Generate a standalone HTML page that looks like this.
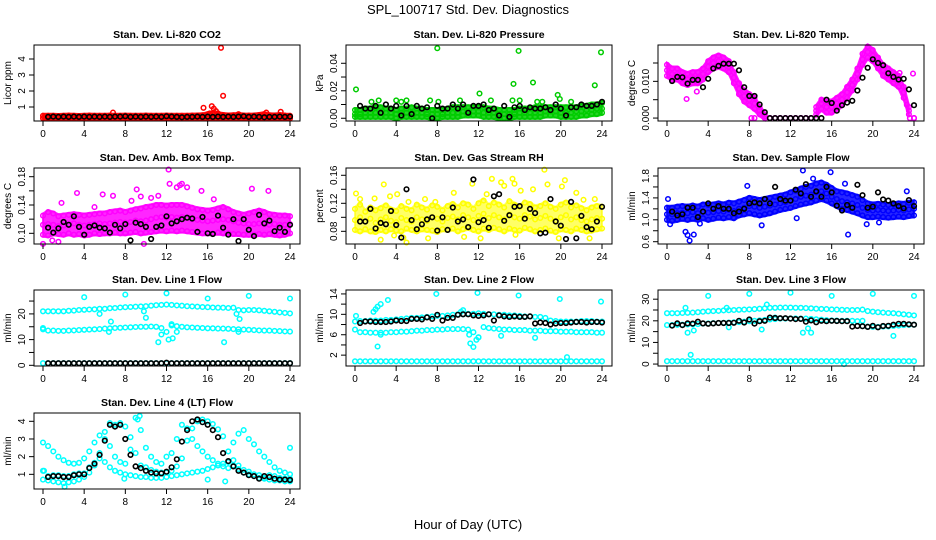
<!DOCTYPE html>
<html><head><meta charset="utf-8"><title>SPL_100717 Std. Dev. Diagnostics</title>
<style>
html,body{margin:0;padding:0;background:#fff;}
svg{display:block;font-family:"Liberation Sans",Arial,sans-serif;}
</style></head>
<body>
<svg id="chart" width="936" height="540" viewBox="0 0 936 540" xmlns="http://www.w3.org/2000/svg">
<text x="468" y="14" text-anchor="middle" font-size="13">SPL_100717  Std. Dev. Diagnostics</text>
<text x="468" y="529" text-anchor="middle" font-size="13">Hour of Day (UTC)</text>
</svg>
<script>
const H=[0,0.5,1,1.5,2,2.5,3,3.5,4,4.5,5,5.5,6,6.5,7,7.5,8,8.5,9,9.5,10,10.5,11,11.5,12,12.5,13,13.5,14,14.5,15,15.5,16,16.5,17,17.5,18,18.5,19,19.5,20,20.5,21,21.5,22,22.5,23,23.5,24];
const HB=H.slice(1);
const xTicks=[0,4,8,12,16,20,24];

// P1 CO2
const co2Lo=[0.3,0.3,0.3,0.3,0.3,0.3,0.3,0.3,0.3,0.3,0.3,0.3,0.3,0.3,0.3,0.3,0.3,0.3,0.3,0.3,0.3,0.3,0.3,0.3,0.3,0.3,0.3,0.3,0.3,0.3,0.3,0.3,0.3,0.3,0.3,0.3,0.3,0.3,0.3,0.3,0.3,0.3,0.3,0.3,0.3,0.3,0.3,0.3,0.28];
const co2Hi=[0.45,0.45,0.45,0.44,0.45,0.46,0.45,0.44,0.45,0.46,0.45,0.45,0.45,0.46,0.45,0.45,0.46,0.45,0.45,0.45,0.46,0.45,0.45,0.45,0.46,0.45,0.45,0.45,0.45,0.46,0.47,0.48,0.55,0.6,0.55,0.5,0.47,0.48,0.5,0.47,0.46,0.47,0.5,0.55,0.48,0.47,0.5,0.46,0.45];
const co2OutX=[15.6,16.4,16.6,16.8,17.3,17.5,6.8,21.7,23.1,16.2,17.0,19.0];
const co2OutY=[0.95,1.05,0.9,0.75,4.7,1.7,0.65,0.65,0.7,0.6,0.6,0.55];
const co2Blk=[0.38,0.4,0.38,0.4,0.38,0.4,0.38,0.4,0.38,0.4,0.38,0.4,0.38,0.4,0.4,0.42,0.38,0.4,0.38,0.4,0.38,0.4,0.38,0.42,0.4,0.38,0.36,0.38,0.38,0.4,0.38,0.4,0.38,0.4,0.38,0.4,0.38,0.4,0.42,0.38,0.4,0.38,0.36,0.38,0.38,0.4,0.38,0.4];

// P2 Pressure
const prLo=[0.001,0.001,0.001,0.001,0.001,0.001,0.001,0.001,0.000,0.001,0.001,0.001,0.001,0.001,0.001,0.0,0.0,0.001,0.001,0.001,0.001,0.002,0.002,0.002,0.002,0.001,0.001,0.001,0.0,0.0,0.0,0.001,0.001,0.001,0.001,0.001,0.001,0.002,0.002,0.002,0.001,0.001,0.001,0.001,0.002,0.002,0.003,0.003,0.004];
const prMid=[0.003,0.003,0.004,0.004,0.004,0.004,0.004,0.004,0.003,0.004,0.004,0.004,0.004,0.004,0.003,0.003,0.003,0.003,0.004,0.004,0.004,0.005,0.005,0.005,0.005,0.004,0.004,0.004,0.003,0.003,0.003,0.003,0.004,0.004,0.004,0.004,0.004,0.005,0.005,0.005,0.004,0.004,0.004,0.005,0.005,0.006,0.006,0.007,0.007];
const prHi=[0.006,0.006,0.007,0.007,0.008,0.008,0.007,0.007,0.006,0.007,0.007,0.008,0.007,0.007,0.006,0.006,0.006,0.006,0.007,0.008,0.008,0.008,0.008,0.008,0.008,0.008,0.007,0.007,0.006,0.006,0.006,0.006,0.007,0.007,0.007,0.008,0.008,0.008,0.008,0.008,0.008,0.008,0.008,0.008,0.009,0.009,0.01,0.01,0.011];
const prOutX=[0.1,8,15.9,23.9,15.4,17.3,23.3,12.1,19.7,19.9,2.3,4,4.5,5,7.3,10.2,13.2,15.3,16,1.6,17.7,18.2,21,8.1];
const prOutY=[0.021,0.051,0.049,0.048,0.025,0.026,0.024,0.018,0.017,0.014,0.013,0.013,0.012,0.013,0.013,0.013,0.013,0.013,0.013,0.012,0.012,0.012,0.012,0.012];
const prBlk=[0.009,0.007,0.007,0.009,0.004,0.010,0.007,0.009,0.002,0.009,0.003,0.009,0.007,0.008,0.000,0.009,0.007,0.007,0.010,0.007,0.010,0.004,0.009,0.009,0.010,0.006,0.007,0.002,0.009,0.001,0.008,0.009,0.006,0.008,0.007,0.007,0.008,0.006,0.010,0.007,0.002,0.008,0.008,0.010,0.009,0.009,0.010,0.012];

// P3 Li-820 Temp
const ltMid=[0.013,0.012,0.012,0.011,0.0105,0.011,0.011,0.012,0.014,0.015,0.0155,0.015,0.014,0.011,0.008,0.006,0.005,0.004,0.002,0.0005,0,0,0,0,0,0,0,0,0,0.002,0.004,0.003,0.003,0.004,0.005,0.007,0.009,0.012,0.016,0.018,0.017,0.015,0.013,0.012,0.011,0.01,0.007,0.002,0];
const ltLo=[0.0115,0.0105,0.0105,0.0095,0.009,0.0095,0.0095,0.0105,0.0125,0.0135,0.014,0.0135,0.0125,0.0095,0.0065,0.0045,0.0035,0.0025,0.001,0,0,0,0,0,0,0,0,0,0,0.001,0.0025,0.0015,0.0015,0.0025,0.0035,0.0055,0.0075,0.0105,0.0145,0.0165,0.0155,0.0135,0.0115,0.0105,0.0095,0.0085,0.0055,0.001,0];
const ltHi=[0.0145,0.0135,0.0135,0.0125,0.012,0.0125,0.0125,0.0135,0.0155,0.0165,0.017,0.0165,0.0155,0.0125,0.0095,0.0075,0.0065,0.0055,0.003,0.001,0,0,0,0,0,0,0,0,0,0.003,0.005,0.0045,0.0045,0.0055,0.0065,0.0085,0.0105,0.0135,0.0175,0.0195,0.0185,0.0165,0.0145,0.0135,0.0125,0.0115,0.0085,0.003,0];
const ltOutX=[1.9,2.9,8.2,23.3,23.6,23.9,22.6,8.5];
const ltOutY=[0.0052,0.0072,0,0.0036,0,0.0121,0.0123,0];
const ltBlk=[0.0101,0.0112,0.0111,0.0094,0.0104,0.0104,0.0084,0.0107,0.0135,0.0142,0.0148,0.0148,0.0148,0.013,0.0084,0.006,0.006,0.0037,0.0016,0,0,0,0,0,0,0,0,0,0,0,0.005,0.0041,0.002,0.0035,0.0042,0.0047,0.0075,0.011,0.0137,0.016,0.015,0.0144,0.0122,0.0112,0.0105,0.0107,0.0078,0.0035];

// P4 Amb Box Temp
const abLo=[0.098,0.097,0.1,0.099,0.098,0.1,0.098,0.099,0.097,0.098,0.1,0.099,0.1,0.1,0.101,0.1,0.1,0.101,0.102,0.1,0.101,0.102,0.103,0.104,0.103,0.104,0.103,0.104,0.103,0.102,0.101,0.1,0.1,0.1,0.101,0.1,0.1,0.099,0.099,0.098,0.098,0.098,0.099,0.098,0.099,0.098,0.097,0.098,0.1];
const abMid=[0.112,0.113,0.112,0.11,0.111,0.113,0.114,0.112,0.111,0.112,0.113,0.114,0.113,0.114,0.115,0.116,0.115,0.116,0.118,0.117,0.118,0.12,0.122,0.123,0.122,0.123,0.122,0.123,0.122,0.12,0.119,0.118,0.117,0.118,0.119,0.12,0.119,0.117,0.115,0.114,0.113,0.113,0.114,0.113,0.112,0.113,0.112,0.112,0.113];
const abHi=[0.125,0.13,0.128,0.124,0.125,0.126,0.127,0.126,0.125,0.126,0.127,0.128,0.128,0.13,0.131,0.132,0.13,0.132,0.134,0.135,0.137,0.138,0.14,0.14,0.139,0.14,0.14,0.14,0.138,0.136,0.134,0.133,0.132,0.133,0.135,0.137,0.134,0.13,0.128,0.126,0.128,0.13,0.132,0.13,0.127,0.126,0.125,0.125,0.124];
const abOutX=[12.2,12.3,13.5,13.3,13,14,3.3,9.1,15.4,20.3,21.9,5.8,6.8,8.6,11.2,10.5,0,9.8,0.9,1.5,16.6,1.8,5,9.5];
const abOutY=[0.19,0.17,0.17,0.168,0.165,0.165,0.157,0.162,0.16,0.163,0.16,0.155,0.153,0.146,0.153,0.15,0.085,0.085,0.09,0.088,0.148,0.143,0.137,0.152];
const abBlk=[0.108,0.101,0.107,0.116,0.112,0.124,0.109,0.098,0.109,0.111,0.108,0.107,0.101,0.112,0.107,0.113,0.09,0.115,0.113,0.109,0.092,0.109,0.111,0.124,0.114,0.117,0.12,0.122,0.121,0.102,0.123,0.1,0.099,0.125,0.108,0.098,0.12,0.089,0.12,0.105,0.096,0.126,0.114,0.118,0.103,0.108,0.102,0.112];

// P5 Gas Stream RH
const rhLo=[0.082,0.08,0.083,0.08,0.079,0.082,0.08,0.083,0.081,0.08,0.084,0.082,0.08,0.083,0.082,0.081,0.079,0.083,0.082,0.084,0.08,0.083,0.085,0.082,0.08,0.084,0.082,0.085,0.083,0.08,0.084,0.082,0.081,0.085,0.083,0.08,0.082,0.084,0.081,0.079,0.083,0.082,0.08,0.084,0.082,0.08,0.081,0.083,0.084];
const rhMid=[0.096,0.1,0.094,0.098,0.092,0.097,0.1,0.095,0.093,0.099,0.096,0.094,0.1,0.097,0.095,0.1,0.098,0.094,0.099,0.101,0.097,0.103,0.1,0.096,0.102,0.105,0.099,0.103,0.1,0.097,0.104,0.1,0.098,0.103,0.101,0.097,0.099,0.102,0.098,0.095,0.1,0.103,0.097,0.1,0.096,0.094,0.097,0.099,0.098];
const rhHi=[0.112,0.118,0.108,0.114,0.11,0.113,0.117,0.111,0.109,0.116,0.112,0.11,0.118,0.114,0.111,0.117,0.115,0.11,0.116,0.119,0.114,0.12,0.118,0.112,0.12,0.124,0.116,0.121,0.118,0.114,0.123,0.118,0.115,0.121,0.119,0.114,0.116,0.12,0.115,0.112,0.118,0.121,0.114,0.117,0.113,0.11,0.114,0.116,0.115];
const rhOutX=[0.1,1.9,2.8,3.4,4.1,5.2,6.8,7.8,9.6,11.4,12.8,13.3,14.2,14.5,15.3,15.5,16.1,17.3,18.4,18.7,20.1,20.4,21.5,22.2,23.3,2.5,3.8,4.7,5.0,7.1,12.2,15.6,19.8,22.8,0.5,10.6];
const rhOutY=[0.134,0.127,0.147,0.13,0.133,0.122,0.126,0.122,0.135,0.148,0.133,0.155,0.15,0.145,0.155,0.148,0.138,0.14,0.168,0.147,0.144,0.153,0.135,0.125,0.126,0.068,0.074,0.071,0.064,0.07,0.07,0.075,0.07,0.07,0.126,0.072];
const rhBlk=[0.094,0.094,0.112,0.084,0.092,0.09,0.109,0.089,0.071,0.14,0.096,0.083,0.09,0.097,0.1,0.081,0.1,0.082,0.114,0.094,0.097,0.086,0.154,0.093,0.096,0.085,0.13,0.133,0.095,0.103,0.115,0.116,0.098,0.112,0.106,0.077,0.078,0.126,0.094,0.088,0.069,0.122,0.07,0.102,0.086,0.083,0.094,0.115];

// P6 Sample Flow
const sfLo=[1.0,0.98,1.0,1.02,1.0,1.02,1.0,1.03,1.0,1.02,1.04,1.03,1.05,1.03,1.08,1.1,1.12,1.1,1.08,1.1,1.12,1.15,1.18,1.2,1.22,1.25,1.28,1.3,1.32,1.35,1.38,1.35,1.3,1.25,1.2,1.18,1.15,1.12,1.08,1.05,1.05,1.06,1.05,1.04,1.05,1.06,1.05,1.07,1.08];
const sfMid=[1.1,1.1,1.12,1.13,1.12,1.14,1.12,1.15,1.13,1.14,1.16,1.15,1.18,1.16,1.2,1.22,1.25,1.24,1.22,1.24,1.26,1.28,1.3,1.32,1.35,1.38,1.42,1.44,1.46,1.5,1.52,1.48,1.42,1.38,1.34,1.32,1.3,1.27,1.22,1.18,1.17,1.18,1.17,1.16,1.17,1.18,1.17,1.19,1.2];
const sfHi=[1.22,1.22,1.24,1.25,1.24,1.26,1.24,1.28,1.27,1.28,1.3,1.28,1.31,1.3,1.33,1.36,1.4,1.38,1.36,1.38,1.4,1.42,1.44,1.46,1.5,1.53,1.57,1.6,1.62,1.66,1.68,1.64,1.58,1.52,1.5,1.48,1.45,1.42,1.36,1.3,1.28,1.29,1.28,1.27,1.28,1.3,1.29,1.31,1.32];
const sfOutX=[1.8,2.0,2.2,2.6,17.6,13.2,15.9,7.8,0.1,0.3,3.2,12.6,19.4,20.6,23.3,9.2,17.3,14.2];
const sfOutY=[0.78,0.72,0.62,0.73,0.73,1.9,1.87,1.62,1.38,0.92,0.93,1.03,0.92,0.95,1.52,0.9,1.66,1.75];
const sfBlk=[1.15,1.08,1.1,1.22,1.22,1.05,1.15,1.3,1.2,1.25,1.2,1.2,1.12,1.15,1.2,1.3,1.32,1.3,1.38,1.3,1.6,1.38,1.35,1.35,1.55,1.48,1.65,1.42,1.52,1.42,1.6,1.5,1.26,1.17,1.27,1.22,1.64,1.45,1.22,1.24,1.5,1.37,1.35,1.3,1.25,1.21,1.36,1.25];

// P7 Line 1 Flow
const l1Top=[21,21,21,21,21,21.2,21.3,21.5,21.6,21.7,21.8,22,22,22.2,22.3,22.5,22.6,22.7,22.8,22.9,23,23.2,23.4,23.5,23.6,23.5,23.3,23.2,23,22.9,22.8,22.7,22.6,22.5,22.4,22.4,22.3,22.4,21.5,21.4,21.5,21.5,21.4,21.2,21,20.8,20.6,20.4,20.2];
const l1Mid=[14,13.5,13.5,13.4,13.4,13.5,13.6,13.7,13.8,13.9,14,14.1,14.3,14.4,14.5,14.6,14.7,14.8,14.9,15,15,15.1,15,14.5,13,15.5,15.2,15,14.8,14.7,14.6,14.5,14.4,14.4,14.3,14.3,14.2,14.1,14,13.9,13.8,13.7,13.6,13.5,13.5,13.4,13.3,13.2,13.1];
const l1Bot=[0.8,0.8,0.8,0.8,0.8,0.8,0.8,0.8,0.8,0.8,0.8,0.8,0.8,0.8,0.8,0.8,0.8,0.8,0.8,0.8,0.8,0.8,0.8,0.8,0.8,0.8,0.8,0.8,0.8,0.8,0.8,0.8,0.8,0.8,0.8,0.8,0.8,0.8,0.8,0.8,0.8,0.8,0.8,0.8,0.8,0.8,0.8,0.8,0.8];
const l1OutX=[4,8,12,16,20,24,0,11.2,12.2,12.6,11.5,17.6,10,9.8,5.5,6.4,6.6,19,18.8,19.1,12.5,13];
const l1OutY=[26.5,27.5,28,26,27,26,14.5,9,10,10.5,12,9,18.5,21,20,13,17,13,20,18,16,13];
const l1Blk=[0.8,0.8,0.8,0.8,0.8,0.8,0.8,0.8,0.8,0.8,0.8,0.8,0.8,0.8,0.8,0.8,0.8,0.8,0.8,0.8,0.8,0.8,0.8,1.0,0.8,0.8,0.8,0.8,0.8,0.8,0.8,0.8,0.8,0.8,0.8,0.8,0.8,0.8,0.8,0.8,0.8,0.8,0.8,0.8,0.8,0.8,0.8,0.8];

// P8 Line 2 Flow
const l2Top=[8.6,8.7,8.7,8.8,8.8,8.8,8.9,8.9,9.0,9.1,9.2,9.3,9.3,9.4,9.5,9.6,9.7,9.7,9.8,9.9,10,10,10.1,10.1,10.2,10.1,10,10,9.9,9.9,9.8,9.8,9.7,9.6,9.6,9.5,9.5,9.3,8.8,8.7,8.6,8.6,8.6,8.6,8.7,8.7,8.7,8.6,8.6];
const l2Mid=[7,6.5,6.5,6.4,6.4,6.4,6.4,6.5,6.5,6.6,6.6,6.7,6.8,6.8,6.9,6.9,7,7,7.1,7.1,7.1,7.1,7,6.5,5.5,7.5,7.3,7.2,7.1,7,7,6.9,6.9,6.9,6.8,6.8,6.8,6.7,6.7,6.7,6.6,6.6,6.6,6.5,6.5,6.5,6.5,6.4,6.4];
const l2Bot=[0.8,0.8,0.8,0.8,0.8,0.8,0.8,0.8,0.8,0.8,0.8,0.8,0.8,0.8,0.8,0.8,0.8,0.8,0.8,0.8,0.8,0.8,0.8,0.8,0.8,0.8,0.8,0.8,0.8,0.8,0.8,0.8,0.8,0.8,0.8,0.8,0.8,0.8,0.8,0.8,0.8,0.8,0.8,0.8,0.8,0.8,0.8,0.8,0.8];
const l2OutX=[2.2,2.5,1.8,2.0,0.1,3.2,7.9,11.9,15.9,19.9,23.9,2.2,11.2,11.5,11.1,11.8,12,14.2,17.5,2.5,20.6,10.3,10.5];
const l2OutY=[11.5,12,10.5,11,9.7,12.8,14,14.2,13.7,13,12.5,3.7,4.3,3.6,6,5,5.5,5.8,5.4,6,1.6,10.5,10.8];
const l2Blk=[8.3,8.6,8.6,8.5,8.5,8.5,8.6,8.8,8.7,8.7,9.1,9.1,9.0,9.4,9.1,9.9,8.8,9.3,9.3,9.9,10,10,9.8,9.7,9.8,10,8.8,9.8,9.6,9.5,9.6,9.5,9.5,9.6,8.2,8.4,8.3,8.0,8.2,8.3,8.3,8.4,8.5,8.5,8.4,8.5,8.5,8.4];

// P9 Line 3 Flow
const l3Top=[23.5,23.5,23.5,23.6,23.7,23.8,24,24.2,24.4,24.5,24.6,24.8,24.9,25,25.1,25.2,25.3,25.4,25.6,25.8,26,26,26.1,26.1,26.1,26,26,25.9,25.8,25.6,25.5,25.4,25.3,25.2,25.1,25,25,25,25.2,24.5,24.2,24,23.8,23.6,23.5,23.3,23,22.8,22.5];
const l3Mid=[18,18,18.1,18.2,18.3,18.4,18.5,18.7,18.8,18.9,19,19.1,19.2,19.3,19.4,19.6,19.8,20,20.2,20.4,20.6,20.8,21,21,21.1,21.1,21,21,20.9,20.7,20.5,20.3,20.2,20.1,20,20,20,19.8,17.5,17.3,17.2,17.2,17.3,17.4,17.6,17.8,18,18.1,18.2];
const l3Bot=[1.3,1.3,1.3,1.3,1.3,1.3,1.3,1.3,1.3,1.3,1.3,1.3,1.3,1.3,1.3,1.3,1.3,1.3,1.3,1.3,1.3,1.3,1.3,1.3,1.3,1.3,1.3,1.3,1.3,1.3,1.3,1.3,1.3,1.3,1.3,1.3,1.3,1.3,1.3,1.3,1.3,1.3,1.3,1.3,1.3,1.3,1.3,1.3,1.3];
const l3OutX=[4,8,12,16,20,24,2,2.3,2.6,13.2,13.7,14,22,9.2,1.8,5.8,9.7,17.2,19,6,10.5];
const l3OutY=[31.5,32.5,33,31.5,32.5,31.5,14.5,4.3,15.5,14.5,16.5,14.5,13,16,26,26,27.5,0,20,17,21.5];
const l3Blk=[17.8,18.8,18,18.8,18.7,19.6,18.8,18.6,18.8,19,19,19,19.1,20,19.2,20.6,18.7,19.8,20,21.5,21.3,21.2,21.2,21,20.8,20.9,19.6,20.2,19.3,20,19.8,20,19.9,19.8,19.8,17.3,17.6,17.5,17.2,17.7,17,17.6,17.7,18.2,18.6,18.6,18.4,18.2];

// P10 Line 4 (LT) Flow
const l4A=[2.8,2.6,2.3,2.0,1.8,1.65,1.6,1.65,1.9,2.3,2.8,3.2,3.4,2.6,2.0,1.7,1.6,2.4,4.2,3.5,2.5,2.0,1.7,1.6,2.0,2.2,3.0,3.8,3.6,3.0,2.6,2.3,2.0,1.8,1.6,1.45,1.35,2.8,3.3,3.5,3.0,2.7,2.3,2.0,1.7,1.4,1.2,1.1,1.0];
const l4B=[0.7,0.65,0.6,0.55,0.5,0.55,0.6,0.7,0.85,1.1,1.5,1.9,1.7,1.4,1.2,1.1,1.0,0.95,0.9,0.85,0.85,0.8,0.8,0.8,0.85,0.9,0.95,1.0,1.05,1.1,1.15,1.2,1.3,1.4,1.5,1.6,1.7,1.5,1.3,1.1,1.0,0.9,0.8,0.75,0.7,0.65,0.65,0.6,0.6];
const l4C=[1.2,0.9,0.95,0.95,0.9,0.9,1.0,1.05,1.05,1.4,1.65,2.2,3.0,3.9,3.8,3.9,3.7,3.1,2.2,1.5,1.4,1.25,1.15,1.1,1.1,1.2,1.45,1.9,2.9,3.6,4.0,4.1,4.0,3.85,3.55,3.15,2.3,1.8,1.5,1.25,1.15,1.0,0.95,0.8,0.95,0.9,0.8,0.75,0.75];
const l4OutX=[2.1,7.9,9.4,16.0,17.7,24,9.2,0.1];
const l4OutY=[0.3,0.75,4.3,0.7,0.6,2.5,4.1,1.2];
const l4Blk=[0.85,0.9,0.9,0.85,0.85,0.95,1.0,1.0,1.35,1.6,2.1,2.9,3.8,3.7,3.8,3.0,2.1,1.45,1.35,1.2,1.1,1.05,1.05,1.15,1.4,1.85,2.85,3.5,4.0,4.1,3.95,3.8,3.5,3.1,2.2,1.75,1.45,1.2,1.1,0.95,0.9,0.75,0.9,0.85,0.75,0.7,0.7,0.68];

const NS='http://www.w3.org/2000/svg';
const svg=document.getElementById('chart');
function mk(tag,attrs,parent){const e=document.createElementNS(NS,tag);for(const k in attrs)e.setAttribute(k,attrs[k]);(parent||svg).appendChild(e);return e;}

const panels=[
 {id:'co2',title:'Stan. Dev. Li-820 CO2',ylab:'Licor ppm',col:0,row:0,ymin:0.125,ymax:4.875,ticks:[1,2,3,4],labels:['1','2','3','4'],color:'#ff0000',
  band:[co2Lo,co2Hi],bandOp:0.9,series:[[H,co2Lo],[H,co2Hi],[co2OutX,co2OutY]],blk:co2Blk},
 {id:'pressure',title:'Stan. Dev. Li-820 Pressure',ylab:'kPa',col:1,row:0,ymin:-0.002,ymax:0.0533,ticks:[0,0.01,0.02,0.03,0.04],labels:['0.00','','0.02','','0.04'],color:'#00cc00',
  band:[prLo,prHi],bandOp:0.85,series:[[H,prLo],[H,prMid],[H,prHi],[prOutX,prOutY]],blk:prBlk},
 {id:'li820-temp',title:'Stan. Dev. Li-820 Temp.',ylab:'degrees C',col:2,row:0,ymin:-0.0008,ymax:0.0199,ticks:[0,0.005,0.01,0.015],labels:['0.000','','0.010',''],color:'#ff00ff',
  band:[ltLo,ltHi],bandOp:0.9,series:[[H,ltLo],[H,ltMid],[H,ltHi],[ltOutX,ltOutY]],blk:ltBlk},
 {id:'amb-box-temp',title:'Stan. Dev. Amb. Box Temp.',ylab:'degrees C',col:0,row:1,ymin:0.0849,ymax:0.1923,ticks:[0.1,0.12,0.14,0.16,0.18],labels:['0.10','','0.14','','0.18'],color:'#ff00ff',
  band:[abLo,abHi],bandOp:0.85,series:[[H,abLo],[H,abMid],[H,abHi],[abOutX,abOutY]],blk:abBlk},
 {id:'gas-stream-rh',title:'Stan. Dev. Gas Stream RH',ylab:'percent',col:1,row:1,ymin:0.0619,ymax:0.1704,ticks:[0.08,0.1,0.12,0.14,0.16],labels:['0.08','','0.12','','0.16'],color:'#ffff00',
  band:[rhLo,rhHi],bandOp:0.6,series:[[H,rhLo],[H,rhMid],[H,rhHi],[rhOutX,rhOutY]],blk:rhBlk},
 {id:'sample-flow',title:'Stan. Dev. Sample Flow',ylab:'ml/min',col:2,row:1,ymin:0.558,ymax:1.946,ticks:[0.6,0.8,1.0,1.2,1.4,1.6,1.8],labels:['0.6','','1.0','','1.4','','1.8'],color:'#0000ff',
  band:[sfLo,sfHi],bandOp:0.85,series:[[H,sfLo],[H,sfMid],[H,sfHi],[sfOutX,sfOutY]],blk:sfBlk},
 {id:'line1-flow',title:'Stan. Dev. Line 1 Flow',ylab:'ml/min',col:0,row:2,ymin:-0.27,ymax:29.3,ticks:[0,5,10,15,20,25],labels:['0','','10','','20',''],color:'#00ffff',
  series:[[H,l1Top],[H,l1Mid],[H,l1Bot],[l1OutX,l1OutY]],blk:l1Blk},
 {id:'line2-flow',title:'Stan. Dev. Line 2 Flow',ylab:'ml/min',col:1,row:2,ymin:-0.13,ymax:14.77,ticks:[2,4,6,8,10,12,14],labels:['2','','6','','10','','14'],color:'#00ffff',
  series:[[H,l2Top],[H,l2Mid],[H,l2Bot],[l2OutX,l2OutY]],blk:l2Blk},
 {id:'line3-flow',title:'Stan. Dev. Line 3 Flow',ylab:'ml/min',col:2,row:2,ymin:-0.9,ymax:34.25,ticks:[0,5,10,15,20,25,30],labels:['0','','10','','20','','30'],color:'#00ffff',
  series:[[H,l3Top],[H,l3Mid],[H,l3Bot],[l3OutX,l3OutY]],blk:l3Blk},
 {id:'line4-flow',title:'Stan. Dev. Line 4 (LT) Flow',ylab:'ml/min',col:0,row:3,ymin:0.17,ymax:4.47,ticks:[1,2,3,4],labels:['1','2','3','4'],color:'#00ffff',
  series:[[H,l4A],[H,l4B],[H,l4C],[l4OutX,l4OutY]],blk:l4Blk}
];
const colLeft=[34,346,658], rowTop=[45,168,290,413], PW=266, PH=76;

panels.forEach(p=>{
  const L=colLeft[p.col], T=rowTop[p.row];
  const g=mk('g',{});
  
  
  const xs=v=>L+9+v*(247/24);
  const ys=v=>T+PH-(v-p.ymin)/(p.ymax-p.ymin)*PH;
  const t=mk('text',{x:L+PW/2,y:T-7,'text-anchor':'middle','font-size':'10.5','font-weight':'bold'},g);
  t.textContent=p.title;
  
  
  if(p.band){
    const lo=p.band[0], hi=p.band[1];
    // split into segments where band has non-zero width
    let segs=[],cur=[];
    for(let i=0;i<H.length;i++){
      if(hi[i]-lo[i]>1e-9){cur.push(i);} else {if(cur.length>1)segs.push(cur);cur=[];}
    }
    if(cur.length>1)segs.push(cur);
    segs.forEach(s=>{
      let d='';
      s.forEach((i,k)=>{d+=(k?'L':'M')+xs(H[i]).toFixed(1)+','+(ys(hi[i])-2).toFixed(1);});
      for(let k=s.length-1;k>=0;k--){const i=s[k];d+='L'+xs(H[i]).toFixed(1)+','+(ys(lo[i])+2).toFixed(1);}
      d+='Z';
      const a=mk('path',{d:d,fill:p.color,'fill-opacity':p.bandOp,stroke:p.color,'stroke-width':2,'stroke-opacity':p.bandOp},g);
      
      
    });
  }
  const pts=mk('g',{fill:'none'},g);
  
  
  p.series.forEach(s=>{
    const xa=s[0], ya=s[1];
    for(let i=0;i<ya.length;i++){
      const c=mk('circle',{cx:xs(xa[i]).toFixed(1),cy:ys(ya[i]).toFixed(1),r:2.3,stroke:p.color,'stroke-width':1.5},pts);
      
      
    }
  });
  const bk=mk('g',{fill:'none'},g);
  
  
  for(let i=0;i<p.blk.length;i++){
    const c=mk('circle',{cx:xs(HB[i]).toFixed(1),cy:ys(p.blk[i]).toFixed(1),r:2.3,stroke:'#000','stroke-width':1.6},bk);
    
    
  }
  const b=mk('rect',{x:L,y:T,width:PW,height:PH,fill:'none',stroke:'#000','stroke-width':1},g);
  
  
  const xa=mk('g',{},g);
  
  
  mk('line',{x1:xs(0),x2:xs(24),y1:T+PH,y2:T+PH,stroke:'#000'},xa);
  xTicks.forEach(v=>{
    mk('line',{x1:xs(v),x2:xs(v),y1:T+PH,y2:T+PH+5,stroke:'#000'},xa);
    const tl=mk('text',{x:xs(v),y:T+PH+16,'text-anchor':'middle','font-size':'10'},xa);
    tl.textContent=String(v);
    
    
  });
  const ya=mk('g',{},g);
  
  
  p.ticks.forEach((v,i)=>{
    const y=ys(v);
    mk('line',{x1:L-5,x2:L,y1:y,y2:y,stroke:'#000'},ya);
    if(p.labels[i]){
      const tl=mk('text',{x:L-9,y:y,'text-anchor':'middle','font-size':'10',transform:'rotate(-90 '+(L-9)+' '+y+')'},ya);
      tl.textContent=p.labels[i];
      
      
    }
  });
  const yl=mk('text',{x:L-23,y:T+PH/2,'text-anchor':'middle','font-size':'10',transform:'rotate(-90 '+(L-23)+' '+(T+PH/2)+')'},g);
  yl.textContent=p.ylab;
  
  
});
</script>
</body></html>
